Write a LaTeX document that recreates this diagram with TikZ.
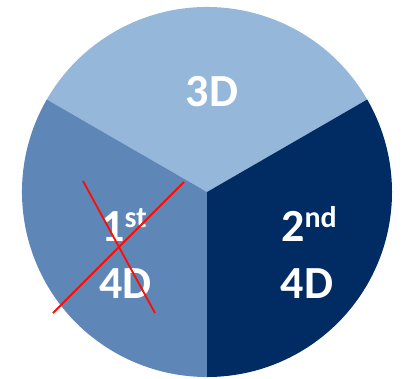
\documentclass[tikz,border=0pt]{standalone}
\usepackage{fontspec}
\setmainfont{Carlito}
\usepackage{xcolor}
\usepackage{tikz}
\usetikzlibrary{calc}
\definecolor{secthree}{HTML}{95B8DA}
\definecolor{secfirst}{HTML}{5E87B8}
\definecolor{secsecond}{HTML}{012B63}
\newcommand{\sups}[1]{\raisebox{14pt}{\fontsize{30}{30}\selectfont #1}}

\begin{document}
\begin{tikzpicture}[x=1pt,y=1pt,
  lbl/.style={text=white,font=\fontsize{46}{46}\selectfont\bfseries,anchor=base,inner sep=0pt},
  cross/.style={red!90!orange,line width=1.8pt}]
  \useasboundingbox (0,0) rectangle (403,378);
  \coordinate (c) at (207,186);
  % the three sectors
  \fill[secthree](c) -- ++(30:185) arc[start angle=30,end angle=150,radius=185] -- cycle;
  \fill[secfirst](c) -- ++(150:185) arc[start angle=150,end angle=270,radius=185] -- cycle;
  \fill[secsecond](c) -- ++(270:185) arc[start angle=270,end angle=390,radius=185] -- cycle;
  % labels
  \node[lbl] (three) at (212,271) {3D};
  \node[lbl] (first) at (124,137) {1\sups{st}};
  \node[lbl] (firstdim) at (125.5,80) {4D};
  \node[lbl] (second) at (309,137) {2\sups{nd}};
  \node[lbl] (seconddim) at (307,80) {4D};
  % crossed out
  \coordinate (xa) at (83,197);
  \coordinate (xb) at (155,65);
  \coordinate (xc) at (184,196);
  \coordinate (xd) at (53,65);
  \draw[cross](xa)--(xb);
  \draw[cross](xc)--(xd);
\end{tikzpicture}
\end{document}
